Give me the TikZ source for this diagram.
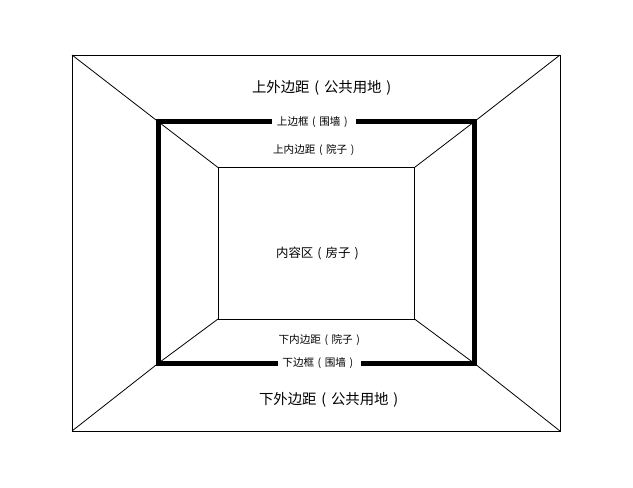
\documentclass[tikz,border=0pt]{standalone}
\usepackage{fontspec}
\newfontfamily\cjk{Noto Sans CJK SC}
\newcommand\lpar{\makebox[1em][c]{(}}
\newcommand\rpar{\makebox[1em][c]{)}}
\begin{document}
\begin{tikzpicture}[x=1pt,y=-1pt,
  thin line/.style={draw=black,line width=0.8pt},
  thick line/.style={draw=black,line width=5pt},
  big label/.style={font=\cjk\fontsize{14.4}{16}\selectfont,inner sep=0pt},
  mid label/.style={font=\cjk\fontsize{12.4}{14}\selectfont,inner sep=0pt},
  small label/.style={font=\cjk\fontsize{10.6}{12}\selectfont,inner sep=0pt},
  gap label/.style={small label,fill=white,inner xsep=4.5pt,inner ysep=2pt}]
\useasboundingbox (0,0) rectangle (633,488);
% corners
\coordinate (o1) at (72,55);
\coordinate (o2) at (560,55);
\coordinate (o3) at (560,431);
\coordinate (o4) at (72,431);
\coordinate (b1) at (158,121.5);
\coordinate (b2) at (474.5,121.5);
\coordinate (b3) at (474.5,363.5);
\coordinate (b4) at (158,363.5);
\coordinate (i1) at (218,167.5);
\coordinate (i2) at (414.5,167.5);
\coordinate (i3) at (414.5,319);
\coordinate (i4) at (218,319);
% outer rectangle and diagonals
\draw[thin line] (o1) -- (o2) -- (o3) -- (o4) -- cycle;
\draw[thin line] (o1) -- (b1) -- (i1);
\draw[thin line] (o2) -- (b2) -- (i2);
\draw[thin line] (o3) -- (b3) -- (i3);
\draw[thin line] (o4) -- (b4) -- (i4);
% inner rectangle
\draw[thin line] (i1) -- (i2) -- (i3) -- (i4) -- cycle;
% border
\draw[thick line,line join=miter] (b1) -- (b2) -- (b3) -- (b4) -- cycle;
% labels
\node[big label] (top outer) at (324,88) {上外边距\lpar 公共用地\rpar};
\node[gap label] (top border) at (314,122) {上边框\lpar 围墙\rpar};
\node[small label] (top pad) at (315.5,150) {上内边距\lpar 院子\rpar};
\node[mid label] (content) at (319.5,253) {内容区\lpar 房子\rpar};
\node[small label] (bottom pad) at (321,340) {下内边距\lpar 院子\rpar};
\node[gap label] (bottom border) at (319.5,363) {下边框\lpar 围墙\rpar};
\node[big label] (bottom outer) at (331,400) {下外边距\lpar 公共用地\rpar};
\end{tikzpicture}
\end{document}
